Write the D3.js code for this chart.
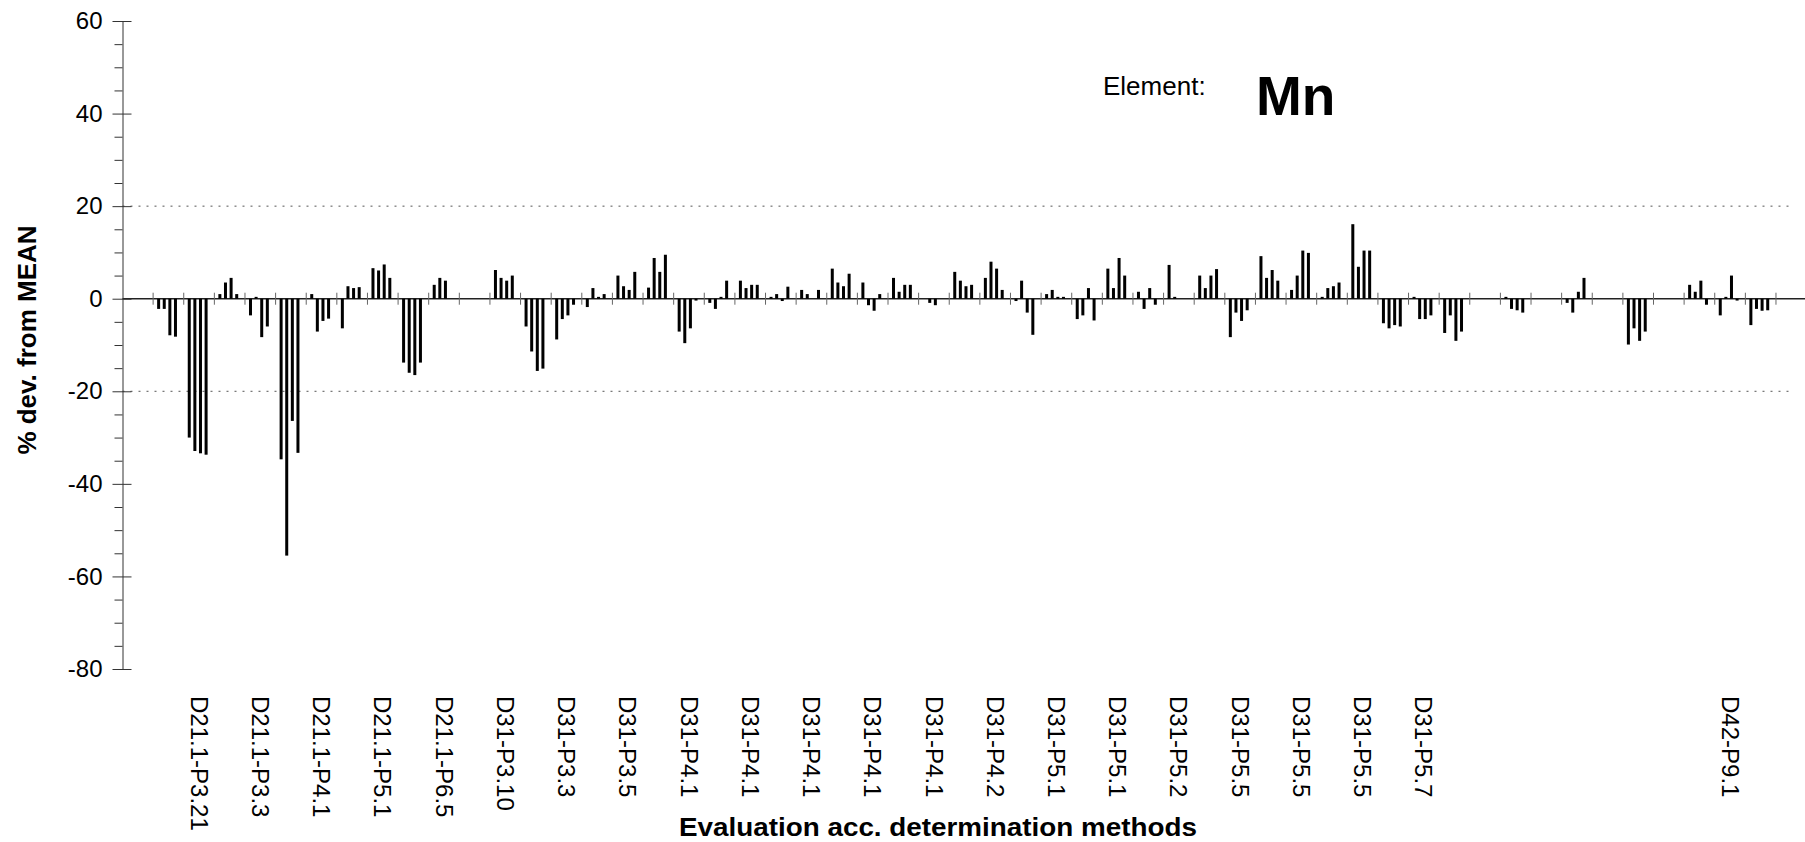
<!DOCTYPE html>
<html>
<head>
<meta charset="utf-8">
<script src="https://cdn.jsdelivr.net/npm/d3@7/dist/d3.min.js"></script>
<style>
  body { margin: 0; background: #fff; }
  svg { display: block; font-family: "Liberation Sans", Arial, sans-serif; }
</style>
</head>
<body>
<div class="chart"></div>
<script>
// printed method labels, Excel shows every 2nd group (groups 0, 2, 4, ...)
let methodLabels = ['', 'D21.1-P3.21', 'D21.1-P3.3', 'D21.1-P4.1', 'D21.1-P5.1', 'D21.1-P6.5',
  'D31-P3.10', 'D31-P3.3', 'D31-P3.5', 'D31-P4.1', 'D31-P4.1', 'D31-P4.1', 'D31-P4.1', 'D31-P4.1',
  'D31-P4.2', 'D31-P5.1', 'D31-P5.1', 'D31-P5.2', 'D31-P5.5', 'D31-P5.5', 'D31-P5.5', 'D31-P5.7',
  '', '', '', '', 'D42-P9.1', ''];
let groupCount = 55;

// % deviation from mean, 4 results per group (null = no result)
let devA = [null, -2.2, -30.0, 1.0, -3.6, -34.7, 1.0, -6.4, 6.6, -13.8, 3.0, null, 6.2, -6.0, -8.8, -1.8, 5.0, 2.4, -7.1, -0.9,
  3.9, 0.4, 1.9, 6.5, 3.5, 4.5, null, 5.8, 4.5, -0.5, 1.0, -4.4, 6.5, 1.5, 7.3, 5.0, -8.3, 9.2, 1.9, 0.4,
  16.1, -5.3, 0.4, -7.4, null, 0.4, null, -0.9, null, -9.9, null, 3.0, -3.6, -5.7, null];
let devB = [null, -2.2, -32.9, 3.5, 0.4, -55.5, -7.1, 2.7, 6.1, -16.0, 4.5, null, 4.5, -11.4, -4.4, 2.3, 2.7, 8.8, -9.6, -2.2,
  2.3, 1.0, 1.0, 3.5, -1.4, 1.5, -0.9, 3.9, 8.0, 3.9, 1.9, -3.6, 2.3, -2.2, 0.4, 2.3, -3.0, 4.5, 5.0, 2.3,
  6.9, -6.4, -4.4, -3.6, null, -2.2, null, -3.0, null, -6.4, null, 1.5, 0.4, -2.2, null];
let devC = [null, -7.9, -33.4, 4.5, -8.3, -26.4, -4.8, 2.3, 7.4, -16.5, 3.9, null, 3.9, -15.6, -3.6, 0.4, 1.9, 5.8, -6.4, 0.4,
  3.0, -0.5, null, 2.7, -2.6, 3.0, -1.4, 2.7, 6.5, -3.0, 0.4, 2.3, 8.8, 2.3, null, 5.0, -4.8, 6.2, 10.4, 2.7,
  10.4, -5.7, -4.4, -9.1, null, -2.5, null, 1.5, null, -9.1, null, 3.9, 5.0, -2.6, null];
let devD = [null, -8.2, -33.7, 1.0, -6.0, -33.3, -4.3, 2.5, 4.5, -13.8, null, null, 5.0, -15.1, -1.3, 1.0, 5.8, 9.5, -0.4, 3.9,
  3.0, 2.6, 1.9, 5.4, 1.0, 3.0, null, 3.0, 1.9, -7.8, 0.4, -4.7, 5.0, -1.3, null, 6.4, -2.5, 3.9, 9.9, 3.5,
  10.4, -6.0, -3.6, -7.1, null, -3.0, null, 4.5, null, -7.1, null, -1.3, -0.4, -2.5, null];

let yTicks = [60, 40, 20, 0, -20, -40, -60, -80];
let limitLines = [20, -20];
let elementName = 'Mn';

let width = 1805, height = 842;

let svg = d3.select('.chart').append('svg')
  .attr('width', width)
  .attr('height', height);

svg.append('rect').attr('width', width).attr('height', height).attr('fill', '#fff');

let x = d3.scaleBand().domain(d3.range(groupCount)).range([122.5, 1806.6]);
let slot = d3.scalePoint().domain([0, 1, 2, 3]).range([x.bandwidth() * 0.18, x.bandwidth() * 0.73]);
let y = d3.scaleLinear().domain([60, -80]).range([21, 669]);

// dotted +-20 lines
svg.selectAll('.limit')
  .data(limitLines).enter()
  .append('line')
  .attr('class', 'limit')
  .attr('x1', x.range()[0]).attr('x2', 1790)
  .attr('y1', d => y(d)).attr('y2', d => y(d))
  .attr('stroke', '#555')
  .attr('stroke-width', 1)
  .attr('stroke-dasharray', '2,6');

// zero line
svg.append('line')
  .attr('x1', x.range()[0]).attr('x2', width)
  .attr('y1', y(0)).attr('y2', y(0))
  .attr('stroke', '#222')
  .attr('stroke-width', 1.5);

// collect bars
let bars = [];
[devA, devB, devC, devD].forEach(function(series, s) {
  series.forEach(function(v, g) {
    if (v !== null) bars.push({ g: g, s: s, v: v });
  });
});

let barW = 3;
svg.selectAll('.bar')
  .data(bars).enter()
  .append('rect')
  .attr('class', 'bar')
  .attr('x', d => x(d.g) + slot(d.s) - barW / 2)
  .attr('y', d => Math.min(y(d.v), y(0)))
  .attr('width', barW)
  .attr('height', d => Math.abs(y(d.v) - y(0)))
  .attr('fill', '#000');

// cross tick marks between groups
svg.selectAll('.gtick')
  .data(d3.range(1, groupCount)).enter()
  .append('line')
  .attr('class', 'gtick')
  .attr('x1', d => x(d)).attr('x2', d => x(d))
  .attr('y1', y(0) - 6).attr('y2', y(0) + 6)
  .attr('stroke', '#666')
  .attr('stroke-width', 1);

// method labels, rotated
svg.selectAll('.mlabel')
  .data(methodLabels).enter()
  .append('text')
  .attr('class', 'mlabel')
  .attr('transform', (d, i) => 'translate(' + (x(i * 2) + x.bandwidth() / 2) + ',696) rotate(90)')
  .attr('dy', '0.35em')
  .attr('font-size', 24)
  .attr('fill', '#000')
  .text(d => d);

// y axis: minor ticks every 5
let minor = d3.range(-80, 61, 5).filter(d => d % 20 !== 0);
svg.append('g')
  .attr('transform', 'translate(' + x.range()[0] + ',0)')
  .call(d3.axisLeft(y).tickValues(minor).tickSize(8).tickFormat(''))
  .call(g => g.select('.domain').remove())
  .selectAll('line').attr('stroke', '#333');

let yAxis = svg.append('g')
  .attr('transform', 'translate(' + x.range()[0] + ',0)')
  .call(d3.axisLeft(y).tickValues(yTicks).tickFormat(d => String(d))
    .tickSizeInner(10).tickSizeOuter(0).tickPadding(10));
yAxis.select('.domain').attr('stroke', '#333');
yAxis.selectAll('.tick line').attr('x1', 9).attr('stroke', '#333');
yAxis.selectAll('.tick text')
  .attr('font-family', '"Liberation Sans", Arial, sans-serif')
  .attr('font-size', 24)
  .attr('fill', '#000');

// axis titles
svg.append('text')
  .attr('transform', 'translate(36,340) rotate(-90)')
  .attr('text-anchor', 'middle')
  .attr('font-size', 26)
  .attr('font-weight', 'bold')
  .text('% dev. from MEAN');

svg.append('text')
  .attr('x', 938).attr('y', 836)
  .attr('text-anchor', 'middle')
  .attr('font-size', 26)
  .attr('font-weight', 'bold')
  .attr('textLength', 518)
  .attr('lengthAdjust', 'spacingAndGlyphs')
  .text('Evaluation acc. determination methods');

svg.append('text')
  .attr('x', 1103).attr('y', 95)
  .attr('font-size', 26)
  .text('Element:');

svg.append('text')
  .attr('x', 1256).attr('y', 115)
  .attr('font-size', 55)
  .attr('font-weight', 'bold')
  .text(elementName);
</script>
</body>
</html>
